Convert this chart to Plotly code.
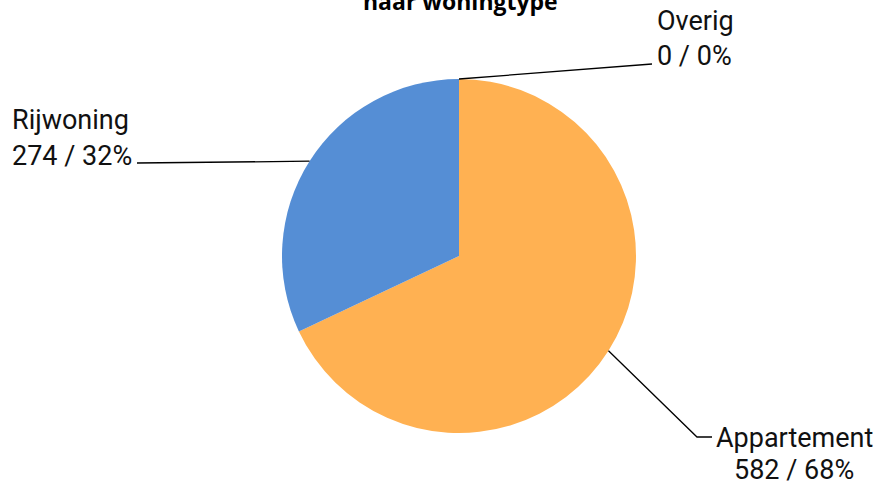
import math
import plotly.graph_objects as go

# ---- data ----
categories = ["Appartement", "Rijwoning", "Overig"]
values = [582, 274, 0]
colors = ["#FFB152", "#558ED5", "#A5A5A5"]
title_text = "naar woningtype"

W, H = 874, 485
cx, cy, r = 459, 256, 177  # pie centre / radius in page px


def px(x):
    return x / W


def py(y):
    return 1 - y / H


fig = go.Figure(go.Pie(
    labels=categories, values=values, sort=False, direction="clockwise",
    rotation=0, textinfo="none", hoverinfo="label+value+percent",
    marker=dict(colors=colors, line=dict(width=0)),
    domain=dict(x=[px(cx - r), px(cx + r)], y=[py(cy + r), py(cy - r)]),
    showlegend=False,
))

total = sum(values)
# label layout: (x, y1, y2, xanchor, leader end points)
label_layout = {
    "Appartement": dict(x=794, y1=438, y2=470, xanchor="center", path=[(697, 437), (712, 437)]),
    "Rijwoning": dict(x=10, y1=120, y2=156, xanchor="left", path=[(137, 163)]),
    "Overig": dict(x=655, y1=21, y2=56, xanchor="left", path=[(652, 64)]),
}

annotations = []
shapes = []
cum = 0
for cat, val in zip(categories, values):
    frac = val / total
    mid = (cum + frac / 2) * 2 * math.pi
    cum += frac
    sx = cx + r * math.sin(mid)
    sy = cy - r * math.cos(mid)
    lay = label_layout[cat]
    pts = [(sx, sy)] + lay["path"]
    d = "M " + " L ".join(f"{px(x):.5f},{py(y):.5f}" for x, y in pts)
    shapes.append(dict(type="path", path=d, xref="paper", yref="paper",
                       line=dict(color="black", width=1.3)))
    pct = round(frac * 100)
    for txt, yy in ((cat, lay["y1"]), (f"{val} / {pct}%", lay["y2"])):
        annotations.append(dict(text=txt, x=px(lay["x"]), y=py(yy), xref="paper", yref="paper",
                                xanchor=lay["xanchor"], yanchor="middle", showarrow=False,
                                font=dict(family="Roboto", size=27, color="#111111")))

annotations.append(dict(text=f"<b>{title_text}</b>", x=px(460), y=py(1), xref="paper", yref="paper",
                        xanchor="center", yanchor="middle", showarrow=False,
                        font=dict(family="Open Sans", size=23, color="black")))

fig.update_layout(
    width=W, height=H, margin=dict(l=0, r=0, t=0, b=0),
    paper_bgcolor="white", plot_bgcolor="white",
    annotations=annotations, shapes=shapes,
)

fig.write_html(
    "out.html",
    config={"displayModeBar": False},
    post_script="document.body.style.margin='0';document.body.style.overflow='hidden';",
)
